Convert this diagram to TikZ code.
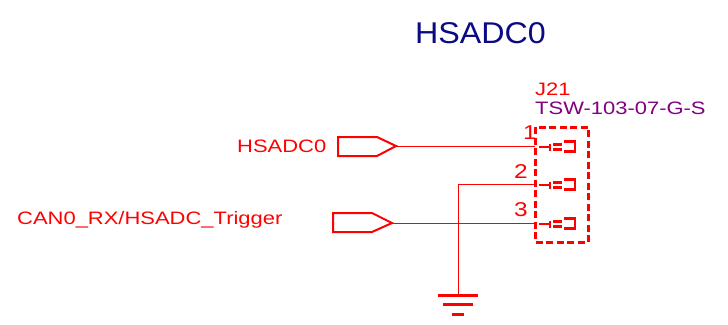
\documentclass[tikz,border=0pt]{standalone}
\usepackage{fontspec}
\setmainfont{Liberation Sans}
\newfontfamily\widefont[FakeStretch=1.22]{Liberation Sans}
\newfontfamily\titlefont[FakeStretch=1.074]{Liberation Sans}
\definecolor{sch}{RGB}{255,0,0}
\definecolor{ttl}{RGB}{10,10,130}
\definecolor{part}{RGB}{128,0,128}
\tikzset{
  lbl/.style={inner sep=0pt,anchor=base west,text=sch,font=\widefont\fontsize{18}{18}\selectfont},
  pinnum/.style={inner sep=0pt,anchor=base,text=sch,font=\widefont\fontsize{20}{20}\selectfont},
  wire/.style={draw=sch,line width=0.9pt},
  port/.style={draw=sch,line width=2pt,line join=miter},
  boldline/.style={draw=sch,line width=3pt},
  contact/.style={draw=sch,line width=2.3pt}
}
\newcommand{\contactsym}[1]{%
  \draw[contact] ([xshift=4pt,yshift=-1pt]#1) -- ++(11pt,0);
  \draw[contact] ([xshift=15pt,yshift=2.5pt]#1) -- ++(0,-7pt);
  \draw[contact] ([xshift=18pt,yshift=1.5pt]#1) -- ++(9pt,0);
  \draw[contact] ([xshift=18pt,yshift=-3.5pt]#1) -- ++(9pt,0);
  \draw[contact] ([xshift=29pt,yshift=4.500pt]#1) -- ++(11pt,0) -- ++(0,-10pt) -- ++(-11pt,0);
}
\begin{document}
\begin{tikzpicture}[x=1pt,y=-1pt]
\useasboundingbox (0,0) rectangle (728,324);
\node[inner sep=0pt,anchor=base west,text=ttl,font=\titlefont\fontsize{30}{30}\selectfont] (title) at (415,43) {HSADC0};
\node[lbl] (lab1) at (237,152) {HSADC0};
\node[lbl] (lab2) at (17,224) {CAN0\_RX/HSADC\_Trigger};
\node[lbl] (ref) at (535,95) {J21};
\node[lbl,text=part] (val) at (535,114) {TSW-103-07-G-S};
% ports
\draw[port] (338,137) -- (377,137) -- (396,146) -- (377,156) -- (338,156) -- cycle;
\draw[port] (333,213) -- (372,213) -- (392,223) -- (372,232) -- (333,232) -- cycle;
\coordinate (p1) at (396,146);
\coordinate (p2) at (392,223);
% connector body
\draw[boldline,dash pattern=on 7pt off 3.5pt,line join=round] (535,127) rectangle (588,242);
\coordinate (a1) at (535,146);
\coordinate (a2) at (535,184);
\coordinate (a3) at (535,223);
\draw[wire] (p1) -- (a1);
\draw[wire] (p2) -- (a3);
\coordinate (gtop) at (458,184);
\coordinate (gnd) at (458,295);
\draw[wire] (a2) -- (gtop) -- (gnd);
\contactsym{a1}
\contactsym{a2}
\contactsym{a3}
\node[pinnum] (n1) at (530,139) {1};
\node[pinnum] (n2) at (521,178) {2};
\node[pinnum] (n3) at (521,216) {3};
% ground
\draw[boldline] (438,295) -- (478,295);
\draw[boldline] (443,304.500) -- (473,304.500);
\draw[boldline] (452,314) -- (464,314);
\end{tikzpicture}
\end{document}
